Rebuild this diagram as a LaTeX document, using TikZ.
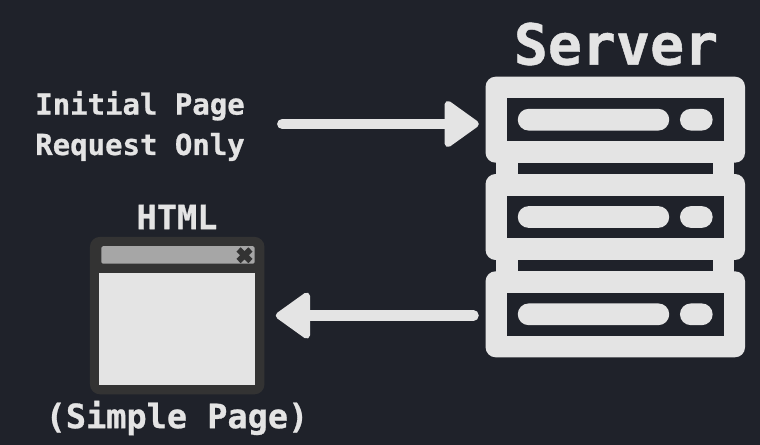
\documentclass[tikz,border=0pt]{standalone}
\usepackage{fontspec}
\usepackage{tikz}
\usetikzlibrary{arrows.meta}
\setmonofont[BoldFont={DejaVu Sans Mono Bold},BoldFeatures={FakeBold=0.8}]{DejaVu Sans Mono}
\definecolor{bgdark}{HTML}{1F222A}
\definecolor{iconlight}{HTML}{E4E4E4}
\definecolor{framedark}{HTML}{333333}
\definecolor{bargray}{HTML}{A6A6A6}
\tikzset{>={Triangle[round,length=0.74cm,width=1.02cm,line width=0.14cm]}}
\tikzset{
    rack/.style={fill=iconlight,rounded corners=0.2cm,minimum width=5.19cm,minimum height=1.72cm,inner sep=0},
    slot/.style={fill=bgdark,minimum width=4.33cm,minimum height=0.855cm,inner sep=0},
    ledlong/.style={fill=iconlight,rounded corners=0.217cm,minimum width=3.03cm,minimum height=0.434cm,inner sep=0},
    ledshort/.style={fill=iconlight,rounded corners=0.217cm,minimum width=0.654cm,minimum height=0.434cm,inner sep=0},
    label/.style={text=iconlight,inner sep=0},
    flow/.style={color=iconlight,line width=0.21cm,line cap=round,->}
}
\begin{document}
\begin{tikzpicture}[x=0.02cm,y=-0.02cm]
    \fill[bgdark] (0,0) rectangle (760,445);
    % server
    \fill[iconlight] (496,160) rectangle (734.3,275);
    \fill[bgdark] (517.7,163.3) rectangle (712.7,174);
    \fill[bgdark] (517.7,260.3) rectangle (712.7,271);
    \foreach \name/\y in {rackone/119.7,racktwo/217,rackthree/314.3} {
        \node[rack] (\name) at (615.3,\y) {};
        \node[slot] (\name slot) at (615.3,\y) {};
        \node[ledlong] (\name long) at (593.5,\y) {};
        \node[ledshort] (\name short) at (696.3,\y) {};
    }
    \node[label,font=\ttfamily\bfseries\fontsize{32.2}{32.2}\selectfont] (server) at (616,44) {Server};
    % request
    \node[label,align=left,font=\ttfamily\bfseries\fontsize{16.5}{23}\selectfont] (request) at (140,126) {Initial Page\\Request Only};
    \coordinate (requestend) at (244,124);
    % window
    \node[fill=framedark,rounded corners=0.2cm,minimum width=3.49cm,minimum height=3.15cm,inner sep=0] (window) at (177.2,315.6) {};
    \node[fill=bargray,rounded corners=0.03cm,minimum width=3.07cm,minimum height=0.35cm,inner sep=0] (titlebar) at (178,255) {};
    \node[fill=iconlight,minimum width=3.11cm,minimum height=2.23cm,inner sep=0] (page) at (177,328.8) {};
    \draw[framedark,line width=0.12cm] (238.5,249.5) -- (250.5,261) (250.5,249.5) -- (238.5,261);
    \node[label,font=\ttfamily\bfseries\fontsize{19.1}{19.1}\selectfont] (html) at (177,217) {HTML};
    \node[label,font=\ttfamily\bfseries\fontsize{19.1}{19.1}\selectfont] (simple) at (177,418) {(Simple Page)};
    % arrows
    \draw[flow,shorten <=0.766cm,shorten >=0.128cm] (requestend) -- (requestend -| rackone.west);
    \draw[flow,shorten <=0.234cm,shorten >=0.22cm] (window.east -| rackthree.west) -- (window.east);
\end{tikzpicture}
\end{document}
